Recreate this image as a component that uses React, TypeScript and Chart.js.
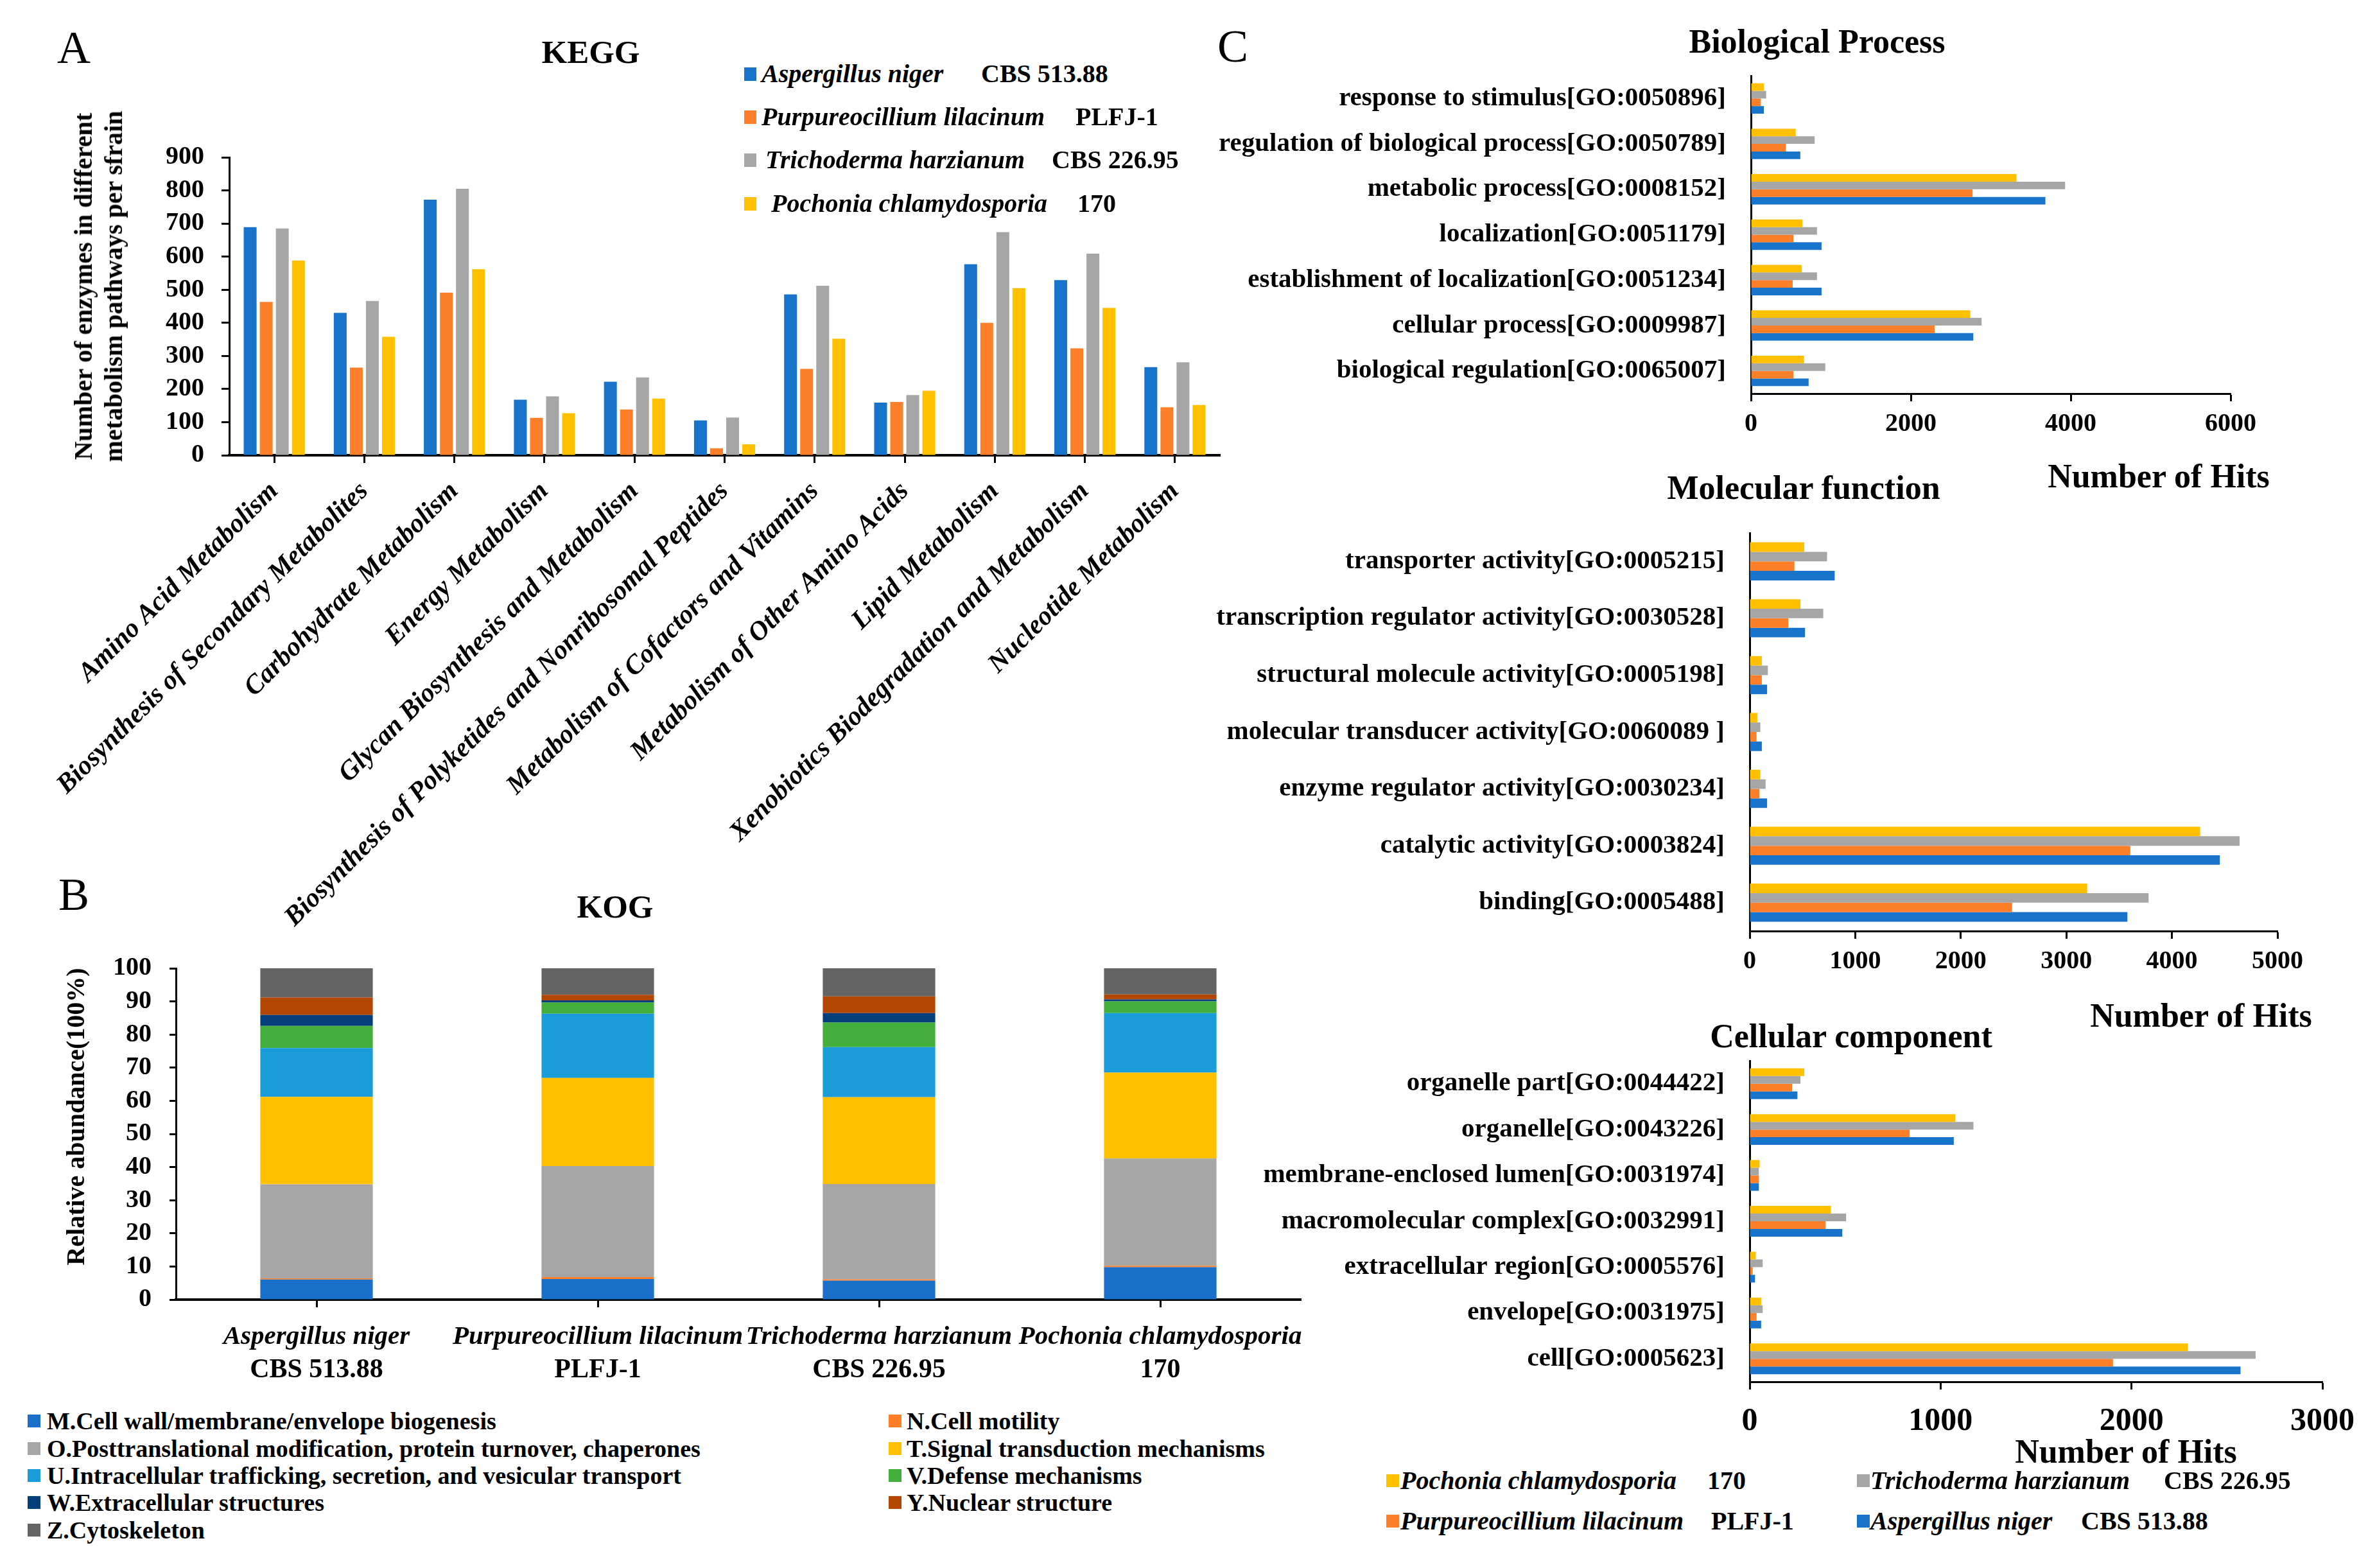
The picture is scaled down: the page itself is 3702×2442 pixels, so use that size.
import React, { useEffect, useRef } from 'react';
import { Chart, registerables } from 'chart.js';
Chart.register(...registerables);

const FONT = '"Liberation Serif", "Times New Roman", Times, serif';

// ---------- shared series ----------
const speciesNames = ['Aspergillus niger', 'Purpureocillium lilacinum', 'Trichoderma harzianum', 'Pochonia chlamydosporia'];
const strainNames = ['CBS 513.88', 'PLFJ-1', 'CBS 226.95', '170'];
const speciesColors = ['#1873CB', '#FE7F2A', '#A6A6A6', '#FFC000'];

// ---------- Panel A: KEGG ----------
const keggCategories = [
  'Amino Acid Metabolism',
  'Biosynthesis of Secondary Metabolites',
  'Carbohydrate Metabolism',
  'Energy Metabolism',
  'Glycan Biosynthesis and Metabolism',
  'Biosynthesis of Polyketides and Nonribosomal Peptides',
  'Metabolism of Cofactors and Vitamins',
  'Metabolism of Other Amino Acids',
  'Lipid Metabolism',
  'Xenobiotics Biodegradation and Metabolism',
  'Nucleotide Metabolism',
];
const keggAniger = [689, 430, 772, 168, 222, 105, 486, 159, 577, 529, 266];
const keggPlilacinum = [463, 265, 491, 113, 138, 21, 261, 161, 400, 323, 145];
const keggTharzianum = [685, 466, 805, 178, 235, 114, 512, 182, 674, 609, 281];
const keggPchlamy = [588, 358, 562, 127, 171, 33, 352, 195, 505, 445, 152];
const keggTicks = [0, 100, 200, 300, 400, 500, 600, 700, 800, 900];

// ---------- Panel B: KOG ----------
const kogClasses = [
  'M.Cell wall/membrane/envelope biogenesis',
  'N.Cell motility',
  'O.Posttranslational modification, protein turnover, chaperones',
  'T.Signal transduction mechanisms',
  'U.Intracellular trafficking, secretion, and vesicular transport',
  'V.Defense mechanisms',
  'W.Extracellular structures',
  'Y.Nuclear structure',
  'Z.Cytoskeleton',
];
const kogColors = ['#1A6FC9', '#FF7F27', '#A6A6A6', '#FFC000', '#1A9CD8', '#44AE3C', '#043F7C', '#B34600', '#646464'];
const kogM = [6.05, 6.2, 5.7, 9.8];
const kogN = [0.35, 0.6, 0.4, 0.4];
const kogO = [28.4, 33.5, 28.8, 32.4];
const kogT = [26.4, 26.6, 26.2, 25.9];
const kogU = [14.7, 19.4, 15.1, 18.0];
const kogV = [6.7, 3.4, 7.4, 3.5];
const kogW = [3.3, 0.6, 2.9, 0.6];
const kogY = [5.3, 1.7, 5.0, 1.5];
const kogZ = [8.8, 8.0, 8.5, 7.9];
const kogSeries = [kogM, kogN, kogO, kogT, kogU, kogV, kogW, kogY, kogZ];

// ---------- Panel C: GO ----------
const bpLabels = [
  'response to stimulus[GO:0050896]',
  'regulation of biological process[GO:0050789]',
  'metabolic process[GO:0008152]',
  'localization[GO:0051179]',
  'establishment of localization[GO:0051234]',
  'cellular process[GO:0009987]',
  'biological regulation[GO:0065007]',
];
const bpPchlamy = [161, 560, 3322, 645, 636, 2743, 664];
const bpTharzianum = [190, 797, 3930, 826, 826, 2885, 930];
const bpPlilacinum = [123, 437, 2772, 531, 522, 2297, 531];
const bpAniger = [161, 617, 3683, 883, 883, 2781, 721];

const mfLabels = [
  'transporter activity[GO:0005215]',
  'transcription regulator activity[GO:0030528]',
  'structural molecule activity[GO:0005198]',
  'molecular transducer activity[GO:0060089 ]',
  'enzyme regulator activity[GO:0030234]',
  'catalytic activity[GO:0003824]',
  'binding[GO:0005488]',
];
const mfPchlamy = [517, 481, 115, 72, 101, 4267, 3197];
const mfTharzianum = [733, 697, 172, 101, 151, 4641, 3779];
const mfPlilacinum = [424, 366, 115, 65, 93, 3606, 2486];
const mfAniger = [805, 524, 165, 115, 165, 4454, 3578];

const ccLabels = [
  'organelle part[GO:0044422]',
  'organelle[GO:0043226]',
  'membrane-enclosed lumen[GO:0031974]',
  'macromolecular complex[GO:0032991]',
  'extracellular region[GO:0005576]',
  'envelope[GO:0031975]',
  'cell[GO:0005623]',
];
const ccPchlamy = [286, 1077, 52, 425, 32, 60, 2296];
const ccTharzianum = [266, 1172, 48, 505, 68, 68, 2650];
const ccPlilacinum = [222, 838, 48, 397, 16, 36, 1903];
const ccAniger = [250, 1069, 48, 485, 28, 60, 2571];

// ---------- helpers ----------
function fixScale(size: number) {
  return (s: any) => {
    if (s.isHorizontal()) s.height = size;
    else s.width = size;
    s.paddingLeft = 0;
    s.paddingRight = 0;
    s.paddingTop = 0;
    s.paddingBottom = 0;
  };
}
const numCb = (v: any) => String(v);
const bold = (size: number, italic = false) => ({ family: FONT, size, weight: 'bold' as const, style: (italic ? 'italic' : 'normal') as any });
const tickGrid = (len: number) => ({ display: true, drawOnChartArea: false, drawTicks: true, offset: false, tickLength: len, tickWidth: 3, tickColor: '#000' });

function baseOptions(padTop: number, padRight: number) {
  return {
    responsive: false,
    animation: false as const,
    devicePixelRatio: 1,
    layout: { padding: { top: padTop, right: padRight, left: 0, bottom: 0 } },
    plugins: { legend: { display: false }, tooltip: { enabled: false }, title: { display: false } },
  };
}

function keggConfig(): any {
  const series = [keggAniger, keggPlilacinum, keggTharzianum, keggPchlamy];
  return {
    type: 'bar',
    data: {
      labels: keggCategories,
      datasets: series.map((d, i) => ({
        label: speciesNames[i] + ' ' + strainNames[i],
        data: d,
        backgroundColor: speciesColors[i],
        categoryPercentage: 0.714,
        barPercentage: 0.8,
      })),
    },
    options: {
      ...baseOptions(65, 30),
      scales: {
        x: {
          offset: true,
          grid: tickGrid(12),
          border: { display: true, color: '#000', width: 4 },
          ticks: { autoSkip: false, minRotation: 45, maxRotation: 45, padding: 20, color: '#000', font: bold(42, true) },
          afterFit: fixScale(791),
        },
        y: {
          min: keggTicks[0],
          max: keggTicks[keggTicks.length - 1],
          ticks: { stepSize: 100, padding: 27, color: '#000', font: bold(40), callback: numCb },
          grid: tickGrid(12),
          border: { display: true, color: '#000', width: 3 },
          afterFit: fixScale(357),
        },
      },
    },
  };
}

const kogLabelPlugin = {
  id: 'kogLabels',
  afterDraw(chart: any) {
    const { ctx, chartArea } = chart;
    const x = chart.scales.x;
    ctx.save();
    ctx.fillStyle = '#000';
    ctx.textAlign = 'center';
    ctx.textBaseline = 'middle';
    speciesNames.forEach((sp, i) => {
      const px = x.getPixelForValue(i);
      ctx.font = `italic bold 41px ${FONT}`;
      ctx.fillText(sp, px, chartArea.bottom + 58);
      ctx.font = `bold 42px ${FONT}`;
      ctx.fillText(strainNames[i], px, chartArea.bottom + 110);
    });
    ctx.restore();
  },
};

function kogConfig(): any {
  return {
    type: 'bar',
    data: {
      labels: speciesNames,
      datasets: kogSeries.map((d, i) => ({
        label: kogClasses[i],
        data: d,
        backgroundColor: kogColors[i],
        categoryPercentage: 0.8,
        barPercentage: 0.5,
      })),
    },
    options: {
      ...baseOptions(38, 24),
      scales: {
        x: {
          stacked: true,
          offset: true,
          grid: tickGrid(12),
          border: { display: true, color: '#000', width: 4 },
          ticks: { display: false },
          afterFit: fixScale(146),
        },
        y: {
          stacked: true,
          min: 0,
          max: 100,
          ticks: { stepSize: 10, padding: 28, color: '#000', font: bold(40), callback: numCb },
          grid: tickGrid(10),
          border: { display: true, color: '#000', width: 3 },
          afterFit: fixScale(274),
        },
      },
    },
    plugins: [kogLabelPlugin],
  };
}

function goConfig(labels: string[], series: number[][], max: number, step: number, padTop: number, padRight: number, yWidth: number, tickSize: number, tickPad: number): any {
  // order top->bottom within each group: Pochonia, Trichoderma, Purpureocillium, Aspergillus
  const order = [3, 2, 1, 0];
  return {
    type: 'bar',
    data: {
      labels,
      datasets: series.map((d, k) => ({
        label: speciesNames[order[k]] + ' ' + strainNames[order[k]],
        data: d,
        backgroundColor: speciesColors[order[k]],
        categoryPercentage: 0.67,
        barPercentage: 1.0,
      })),
    },
    options: {
      ...baseOptions(padTop, padRight),
      indexAxis: 'y',
      scales: {
        x: {
          min: 0,
          max,
          ticks: { stepSize: step, padding: tickPad, color: '#000', font: bold(tickSize), callback: numCb },
          grid: tickGrid(12),
          border: { display: true, color: '#000', width: 3 },
          afterFit: fixScale(107),
        },
        y: {
          offset: true,
          grid: { display: false, drawTicks: false },
          border: { display: true, color: '#000', width: 3 },
          ticks: { autoSkip: false, padding: 39, color: '#000', font: bold(41) },
          afterFit: fixScale(yWidth),
        },
      },
    },
  };
}

function ChartBox({ left, top, width, height, make }: { left: number; top: number; width: number; height: number; make: () => any }) {
  const ref = useRef<HTMLCanvasElement>(null);
  useEffect(() => {
    const chart = new Chart(ref.current as HTMLCanvasElement, make());
    return () => chart.destroy();
  }, []);
  return (
    <div style={{ position: 'absolute', left, top, width, height }}>
      <canvas ref={ref} width={width} height={height} style={{ display: 'block' }} />
    </div>
  );
}

type LP = { x: number; y: number; size: number; text: string; italic?: boolean; weight?: string; anchor?: 'center' | 'left'; rotate?: number };
function Label({ x, y, size, text, italic = false, weight = 'bold', anchor = 'center', rotate = 0 }: LP) {
  const tx = anchor === 'center' ? '-50%' : '0';
  return (
    <div
      style={{
        position: 'absolute',
        left: x,
        top: y,
        transform: `translate(${tx},-50%) rotate(${rotate}deg)`,
        fontFamily: FONT,
        fontSize: size,
        lineHeight: 1,
        fontWeight: weight as any,
        fontStyle: italic ? 'italic' : 'normal',
        whiteSpace: 'nowrap',
        color: '#000',
      }}
    >
      {text}
    </div>
  );
}

function Swatch({ x, y, w, h, color }: { x: number; y: number; w: number; h: number; color: string }) {
  return <div style={{ position: 'absolute', left: x, top: y - h / 2, width: w, height: h, background: color }} />;
}

export default function App() {
  // Panel A legend layout
  const aLegY = [115, 182, 249, 317];
  const aLegTextX = [1186, 1186, 1192, 1201];
  const aLegStrainX = [1528, 1675, 1638, 1678];

  // Panel C legend layout: [species index, square x, text x, strain x, y]
  const cLeg: [number, number, number, number, number][] = [
    [3, 2159, 2181, 2659, 2306],
    [2, 2892, 2913, 3370, 2306],
    [1, 2159, 2181, 2665, 2369],
    [0, 2892, 2913, 3241, 2369],
  ];

  const kogRowsY = [2213, 2256, 2298, 2340, 2383];

  return (
    <div style={{ position: 'absolute', left: 0, top: 0, width: 3702, height: 2442, background: '#fff', overflow: 'hidden' }}>
      {/* Panel A */}
      <ChartBox left={0} top={180} width={1930} height={1320} make={keggConfig} />
      <Label x={115} y={74} size={72} text="A" weight="normal" />
      <Label x={920} y={81} size={51} text="KEGG" />
      <div
        style={{
          position: 'absolute',
          left: 153,
          top: 446,
          transform: 'translate(-50%,-50%) rotate(-90deg)',
          fontFamily: FONT,
          fontSize: 40,
          lineHeight: '47px',
          fontWeight: 'bold',
          textAlign: 'center',
          whiteSpace: 'nowrap',
          color: '#000',
        }}
      >
        <div>Number of enzymes in different</div>
        <div>metabolism pathways per sfrain</div>
      </div>
      {speciesNames.map((sp, i) => (
        <React.Fragment key={'al' + i}>
          <Swatch x={1159} y={aLegY[i]} w={19} h={21} color={speciesColors[i]} />
          <Label x={aLegTextX[i]} y={aLegY[i]} size={40} text={sp} italic anchor="left" />
          <Label x={aLegStrainX[i]} y={aLegY[i]} size={40} text={strainNames[i]} anchor="left" />
        </React.Fragment>
      ))}

      {/* Panel B */}
      <ChartBox left={0} top={1470} width={2050} height={700} make={kogConfig} />
      <Label x={115} y={1393} size={72} text="B" weight="normal" />
      <Label x={958} y={1412} size={51} text="KOG" />
      <Label x={118} y={1739} size={40} text="Relative abundance(100%)" rotate={-90} />
      {kogClasses.map((c, i) => {
        const col = i % 2;
        const row = Math.floor(i / 2);
        const sx = col === 0 ? 43 : 1384;
        const tx = col === 0 ? 73 : 1412;
        return (
          <React.Fragment key={'kl' + i}>
            <Swatch x={sx} y={kogRowsY[row]} w={20} h={20} color={kogColors[i]} />
            <Label x={tx} y={kogRowsY[row]} size={38} text={c} anchor="left" />
          </React.Fragment>
        );
      })}

      {/* Panel C */}
      <Label x={1920} y={72} size={72} text="C" weight="normal" />
      <ChartBox
        left={1850}
        top={100}
        width={1690}
        height={620}
        make={() => goConfig(bpLabels, [bpPchlamy, bpTharzianum, bpPlilacinum, bpAniger], 6000, 2000, 18, 66, 877, 40, 12)}
      />
      <Label x={2830} y={65} size={52} text="Biological Process" />
      <Label x={3362} y={742} size={52} text="Number of Hits" />

      <ChartBox
        left={1850}
        top={810}
        width={1740}
        height={747}
        make={() => goConfig(mfLabels, [mfPchlamy, mfTharzianum, mfPlilacinum, mfAniger], 5000, 1000, 20, 43, 875, 40, 12)}
      />
      <Label x={2809} y={760} size={52} text="Molecular function" />
      <Label x={3428} y={1582} size={52} text="Number of Hits" />

      <ChartBox
        left={1850}
        top={1632}
        width={1852}
        height={627}
        make={() => goConfig(ccLabels, [ccPchlamy, ccTharzianum, ccPlilacinum, ccAniger], 3000, 1000, 20, 85, 875, 50, 20)}
      />
      <Label x={2883} y={1614} size={52} text="Cellular component" />
      <Label x={3311} y={2261} size={52} text="Number of Hits" />

      {cLeg.map(([si, sqx, tx, stx, y]) => (
        <React.Fragment key={'cl' + si}>
          <Swatch x={sqx} y={y} w={20} h={20} color={speciesColors[si]} />
          <Label x={tx} y={y} size={40} text={speciesNames[si]} italic anchor="left" />
          <Label x={stx} y={y} size={40} text={strainNames[si]} anchor="left" />
        </React.Fragment>
      ))}
    </div>
  );
}
